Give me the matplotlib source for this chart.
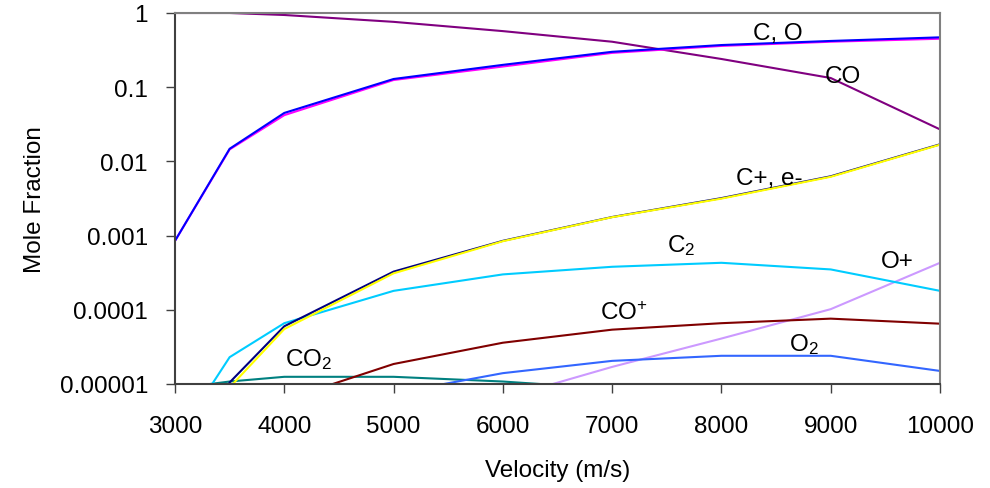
import numpy as np
import matplotlib
matplotlib.use("Agg")
import matplotlib.pyplot as plt
from matplotlib.ticker import FixedLocator, FixedFormatter, NullLocator

plt.rcParams['font.family'] = ['Liberation Sans', 'DejaVu Sans']
plt.rcParams['mathtext.fontset'] = 'custom'
plt.rcParams['mathtext.rm'] = 'Liberation Sans'
plt.rcParams['mathtext.it'] = 'Liberation Sans'

velocity = [3000, 3500, 4000, 5000, 6000, 7000, 8000, 9000, 10000]

co   = [1.0, 1.0, 0.94, 0.76, 0.57, 0.41, 0.24, 0.133, 0.027]
c    = [0.00085, 0.0148, 0.045, 0.129, 0.20, 0.30, 0.37, 0.42, 0.47]
o    = [0.00085, 0.0145, 0.042, 0.125, 0.19, 0.29, 0.36, 0.41, 0.45]
cplus = [None, 1.05e-5, 6.0e-5, 3.27e-4, 8.5e-4, 1.78e-3, 3.2e-3, 6.3e-3, 0.017]
eminus = [None, 9.0e-6, 5.5e-5, 3.1e-4, 8.4e-4, 1.77e-3, 3.15e-3, 6.2e-3, 0.0168]
c2   = [1.7e-6, 2.3e-5, 6.6e-5, 1.8e-4, 3.0e-4, 3.8e-4, 4.3e-4, 3.5e-4, 1.8e-4]
coplus = [None, None, 6.1e-6, 1.86e-5, 3.6e-5, 5.4e-5, 6.6e-5, 7.6e-5, 6.5e-5]
o2   = [None, None, None, 7.5e-6, 1.4e-5, 2.05e-5, 2.4e-5, 2.4e-5, 1.5e-5]
oplus = [None, None, None, None, 6.4e-6, 1.7e-5, 4.1e-5, 1.02e-4, 4.3e-4]
co2  = [8.7e-6, 1.08e-5, 1.25e-5, 1.25e-5, 1.08e-5, 8.6e-6, None, None, None]

y_ticks = [1e-5, 1e-4, 1e-3, 1e-2, 1e-1, 1]
y_tick_labels = ["0.00001", "0.0001", "0.001", "0.01", "0.1", "1"]
x_ticks = [3000, 4000, 5000, 6000, 7000, 8000, 9000, 10000]

labels = [
    ("C, O", 8292, 0.447),
    ("CO", 8941, 0.117),
    ("C+, e-", 8137, 4.96e-3),
    ("C$_2$", 7506, 6.2e-4),
    ("O+", 9463, 3.8e-4),
    ("CO$^{+}$", 6885, 7.5e-5),
    ("O$_2$", 8622, 2.88e-5),
    ("CO$_2$", 4005, 1.8e-5),
]

def series(vals):
    xs = [v for v, y in zip(velocity, vals) if y is not None]
    ys = [y for y in vals if y is not None]
    return xs, ys

fig = plt.figure(figsize=(9.9, 4.89), dpi=100)
ax = fig.add_axes([175/990, 1-385/489, (940-175)/990, (385-14)/489])
ax.set_yscale('log')

lw = 1.5
ax.plot(*series(co2), color='#008080', lw=lw)
ax.plot(*series(oplus), color='#CC99FF', lw=lw)
ax.plot(*series(o2), color='#3366FF', lw=lw)
ax.plot(*series(coplus), color='#800000', lw=lw)
ax.plot(*series(c2), color='#00CCFF', lw=lw)
ax.plot(*series(cplus), color='#000080', lw=lw)
ax.plot(*series(eminus), color='#FFFF00', lw=lw)
ax.plot(*series(co), color='#800080', lw=lw)
ax.plot(*series(o), color='#FF00FF', lw=lw)
ax.plot(*series(c), color='#0000FF', lw=lw)

ax.set_xlim(3000, 10000)
ax.set_ylim(1e-5, 1)
ax.xaxis.set_major_locator(FixedLocator(x_ticks))
ax.yaxis.set_major_locator(FixedLocator(y_ticks))
ax.yaxis.set_major_formatter(FixedFormatter(y_tick_labels))
ax.yaxis.set_minor_locator(NullLocator())
ax.xaxis.set_minor_locator(NullLocator())

ax.tick_params(axis='both', direction='out', length=6.5, width=1, colors='#404040',
               labelcolor='black', labelsize=17.5)
ax.tick_params(axis='y', pad=13)
ax.tick_params(axis='x', pad=16)

for side in ['left', 'bottom']:
    ax.spines[side].set_color('#404040')
    ax.spines[side].set_linewidth(1.5)
for side in ['top', 'right']:
    ax.spines[side].set_color('#808080')
    ax.spines[side].set_linewidth(1.5)

for txt, x, y in labels:
    ax.text(x, y, txt, fontsize=17.5, ha='left', va='baseline', color='black')

ax.set_xlabel('Velocity (m/s)', fontsize=17.5, labelpad=16)
ax.set_ylabel('Mole Fraction', fontsize=17.5, labelpad=10)

fig.savefig('out.png', dpi=100)
